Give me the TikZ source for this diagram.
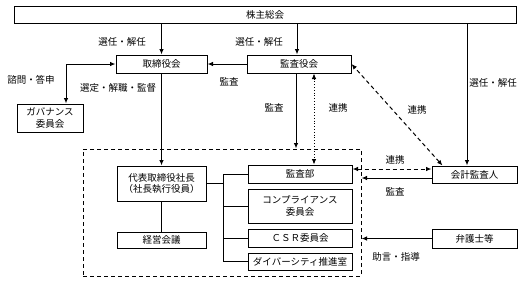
\documentclass[tikz,border=0pt]{standalone}
\usepackage{fontspec}
\setmainfont{Noto Sans CJK JP}
\usetikzlibrary{arrows.meta}
\begin{document}
\begin{tikzpicture}[x=1pt,y=-1pt,
  font=\fontsize{9.5}{11.5}\selectfont,
  box/.style={draw,line width=1pt,rectangle,inner sep=0pt,align=center},
  lbl/.style={inner sep=0pt},
  arr/.style={line width=1pt,-{Latex[length=5.5pt,width=4.5pt]}},
  darr/.style={line width=1pt,{Latex[length=5.5pt,width=4.5pt]}-{Latex[length=5.5pt,width=4.5pt]}},
  ln/.style={line width=1pt}]
\useasboundingbox (0,0) rectangle (525,282);
% dashed executive area
\node[draw,line width=1pt,dash pattern=on 4pt off 3pt,minimum width=278pt,minimum height=127pt,inner sep=0pt] (exec) at (222,212.5) {};
% boxes
\node[box,minimum width=502pt,minimum height=17pt] (kabu) at (265,14.5) {株主総会};
\node[box,minimum width=91pt,minimum height=18pt] (tori) at (161.5,64) {取締役会};
\node[box,minimum width=104pt,minimum height=18pt] (kyaku) at (299,64) {監査役会};
\node[box,minimum width=66pt,minimum height=28pt] (gov) at (50,118) {ガバナンス\\委員会};
\node[box,minimum width=89pt,minimum height=35pt] (dai) at (161.5,183.5) {代表取締役社長\\（社長執行役員）};
\node[box,minimum width=89pt,minimum height=16pt] (keiei) at (161.5,240) {経営会議};
\node[box,minimum width=104pt,minimum height=18pt] (kbu) at (300,174) {監査部};
\node[box,minimum width=104pt,minimum height=34pt] (comp) at (300,206) {コンプライアンス\\委員会};
\node[box,minimum width=104pt,minimum height=18pt] (csr) at (300,238) {ＣＳＲ委員会};
\node[box,minimum width=104pt,minimum height=17pt] (div) at (300,261.5) {ダイバーシティ推進室};
\node[box,minimum width=85pt,minimum height=17pt] (kaikei) at (474.5,174.5) {会計監査人};
\node[box,minimum width=85pt,minimum height=19pt] (bengo) at (474.5,238.5) {弁護士等};
% connectors
\draw[arr] (tori.north |- kabu.south) -- (tori.north);
\draw[arr] ([xshift=-2pt]kyaku.north |- kabu.south) -- ([xshift=-2pt]kyaku.north);
\draw[arr] ([xshift=-7.5pt]kaikei.north |- kabu.south) -- ([xshift=-7.5pt]kaikei.north);
\draw[arr] (kyaku.west) -- (tori.east);
\draw[darr] (tori.west) -| ([xshift=16pt]gov.north);
\draw[arr] (tori.south) -- (dai.north);
\draw[arr] ([xshift=-3pt]kyaku.south) -- ([xshift=-3pt]kyaku.south |- exec.north);
\draw[darr,line width=0.8pt,dotted] ([xshift=15pt]kyaku.south) -- ([xshift=15pt]kyaku.south |- kbu.north);
\draw[darr,dash pattern=on 4pt off 3pt] ([xshift=-32pt]kaikei.north) -- (kyaku.east);
\draw[darr,dash pattern=on 4pt off 3pt] ([yshift=5pt]kbu.east) -- ([yshift=5pt]kbu.east -| kaikei.west);
\draw[arr] ([yshift=-3.5pt]kaikei.west) -- ([yshift=-3.5pt]kaikei.west -| exec.east);
\draw[arr] (bengo.west) -- (bengo.west -| exec.east);
\draw[ln] (dai.south) -- (keiei.north);
\coordinate (tr) at (223,0);
\draw[ln] (dai.east) -- (dai.east -| tr);
\draw[ln] (tr |- kbu.west) -- (tr |- div.west);
\draw[ln] (tr |- kbu.west) -- (kbu.west);
\draw[ln] (tr |- comp.west) -- (comp.west);
\draw[ln] (tr |- csr.west) -- (csr.west);
\draw[ln] (tr |- div.west) -- (div.west);
% labels
\node[lbl] (l1) at (122,42) {選任・解任};
\node[lbl] (l2) at (259,42) {選任・解任};
\node[lbl] (l3) at (493,83) {選任・解任};
\node[lbl] (l4) at (31,80) {諮問・答申};
\node[lbl] (l5) at (118,88) {選定・解職・監督};
\node[lbl] (l6) at (229,82) {監査};
\node[lbl] (l7) at (274,108) {監査};
\node[lbl] (l8) at (338,108) {連携};
\node[lbl] (l9) at (417,110) {連携};
\node[lbl] (l10) at (395,160) {連携};
\node[lbl] (l11) at (395,192) {監査};
\node[lbl] (l12) at (396,257) {助言・指導};
\end{tikzpicture}
\end{document}
